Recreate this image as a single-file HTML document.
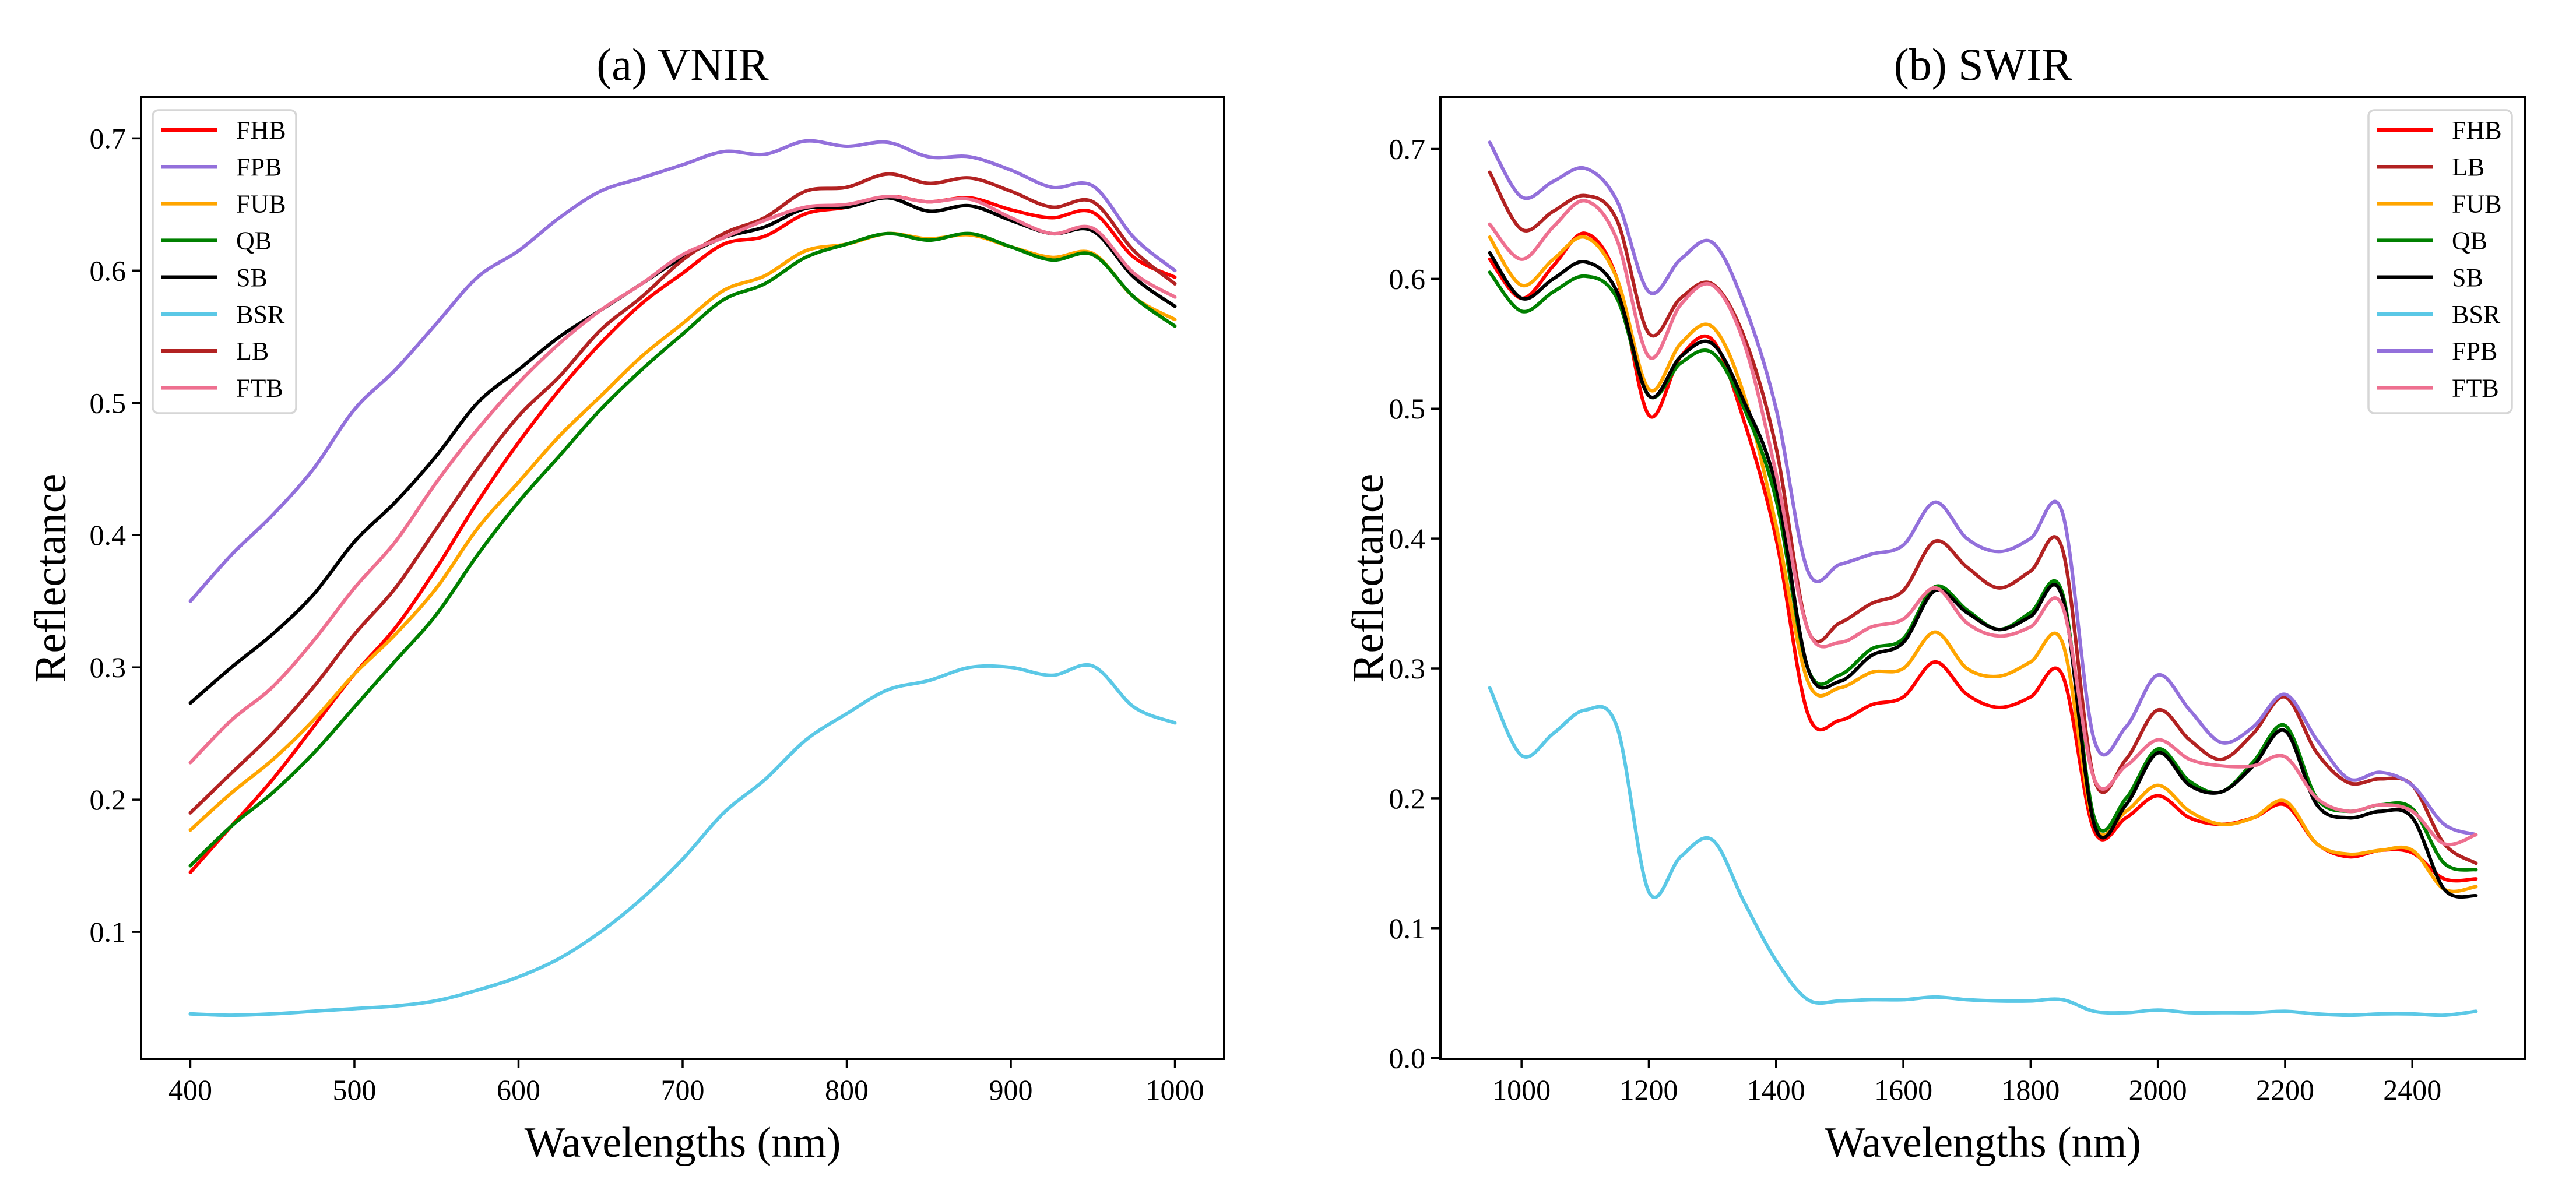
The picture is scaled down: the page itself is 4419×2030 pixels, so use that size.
<!DOCTYPE html>
<html><head><meta charset="utf-8"><style>
html,body{margin:0;padding:0;background:#fff}
svg{display:block}
text{font-family:"Liberation Serif","DejaVu Serif",serif;fill:#000}
</style></head><body>
<svg id="chart" width="4419" height="2030" viewBox="0 0 4419 2030" xmlns="http://www.w3.org/2000/svg"></svg>
<script>
// ---- VNIR data ----
const vnirWavelengths = [400,425,450,475,500,525,550,575,600,625,650,675,700,725,750,775,800,825,850,875,900,925,950,975,1000];
const vnirFHB = [.145,.18,.215,.255,.295,.33,.375,.425,.47,.51,.545,.575,.598,.62,.626,.643,.648,.656,.652,.655,.646,.64,.644,.61,.595];
const vnirFPB = [.35,.385,.415,.45,.495,.525,.56,.595,.615,.64,.66,.67,.68,.69,.688,.698,.694,.697,.686,.686,.676,.663,.664,.625,.60];
const vnirFUB = [.177,.205,.23,.26,.295,.325,.36,.405,.44,.475,.505,.535,.56,.585,.596,.615,.62,.628,.624,.627,.618,.61,.613,.58,.563];
const vnirQB  = [.15,.18,.205,.235,.27,.305,.34,.385,.425,.46,.495,.525,.552,.578,.59,.61,.62,.628,.623,.628,.618,.608,.612,.58,.558];
const vnirSB  = [.273,.30,.325,.355,.395,.425,.46,.50,.525,.55,.57,.59,.61,.625,.633,.647,.648,.655,.645,.649,.638,.628,.63,.595,.573];
const vnirBSR = [.038,.037,.038,.04,.042,.044,.048,.056,.066,.08,.1,.125,.155,.19,.215,.245,.265,.283,.29,.3,.3,.294,.301,.27,.258];
const vnirLB  = [.19,.22,.25,.285,.325,.36,.405,.45,.49,.52,.555,.58,.608,.628,.64,.66,.663,.673,.666,.67,.66,.648,.652,.615,.59];
const vnirFTB = [.228,.26,.285,.32,.36,.395,.44,.48,.515,.545,.57,.59,.612,.625,.638,.648,.65,.656,.652,.654,.64,.628,.632,.598,.58];
const vnirXTicks = [400,500,600,700,800,900,1000];
const vnirYTicks = [0.1,0.2,0.3,0.4,0.5,0.6,0.7];
// ---- SWIR data ----
const swirWavelengths = [950,1000,1050,1100,1150,1200,1250,1300,1350,1400,1450,1500,1550,1600,1650,1700,1750,1800,1850,1900,1950,2000,2050,2100,2150,2200,2250,2300,2350,2400,2450,2500];
const swirFHB = [.615,.585,.61,.635,.6,.495,.54,.553,.49,.4,.265,.26,.272,.278,.305,.28,.27,.278,.295,.175,.185,.202,.185,.18,.185,.195,.165,.155,.16,.158,.138,.138];
const swirLB  = [.682,.638,.652,.664,.645,.558,.585,.596,.555,.47,.33,.335,.35,.36,.398,.378,.362,.375,.392,.215,.23,.268,.245,.23,.25,.278,.235,.212,.215,.21,.165,.15];
const swirFUB = [.632,.595,.615,.632,.6,.515,.55,.563,.51,.41,.29,.285,.297,.3,.328,.3,.294,.305,.32,.18,.19,.21,.19,.18,.185,.198,.165,.157,.16,.16,.13,.132];
const swirQB  = [.605,.575,.59,.602,.585,.51,.535,.543,.5,.43,.3,.295,.315,.323,.363,.345,.33,.343,.358,.185,.2,.238,.213,.205,.228,.256,.2,.19,.195,.192,.15,.145];
const swirSB  = [.62,.585,.6,.613,.59,.51,.54,.55,.505,.44,.3,.29,.31,.32,.36,.343,.33,.34,.355,.18,.195,.235,.21,.205,.225,.252,.195,.185,.19,.185,.13,.125];
const swirBSR = [.285,.233,.25,.268,.255,.128,.155,.168,.12,.075,.045,.044,.045,.045,.047,.045,.044,.044,.045,.036,.035,.037,.035,.035,.035,.036,.034,.033,.034,.034,.033,.036];
const swirFPB = [.705,.663,.675,.685,.66,.59,.615,.628,.58,.5,.375,.38,.388,.395,.428,.4,.39,.4,.42,.245,.255,.295,.268,.243,.255,.28,.245,.215,.22,.21,.18,.172];
const swirFTB = [.642,.615,.64,.66,.63,.54,.58,.595,.55,.45,.33,.32,.332,.338,.362,.335,.325,.332,.348,.215,.225,.245,.23,.225,.225,.232,.2,.19,.195,.19,.165,.172];
const swirXTicks = [1000,1200,1400,1600,1800,2000,2200,2400];
const swirYTicks = [0.0,0.1,0.2,0.3,0.4,0.5,0.6,0.7];

const COLORS = {FHB:'#ff0000',FPB:'#9370db',FUB:'#ffa500',QB:'#008000',SB:'#000000',BSR:'#5bc8e6',LB:'#b22222',FTB:'#ee7090'};
const NS='http://www.w3.org/2000/svg';
const svg=document.getElementById('chart');
function mk(tag,attrs,parent){const e=document.createElementNS(NS,tag);for(const k in attrs)e.setAttribute(k,attrs[k]);(parent||svg).appendChild(e);return e;}
function smooth(pts){let d='M'+pts[0][0].toFixed(1)+','+pts[0][1].toFixed(1);
  for(let i=0;i<pts.length-1;i++){const p0=pts[i-1]||pts[i],p1=pts[i],p2=pts[i+1],p3=pts[i+2]||p2;
    const c1=[p1[0]+(p2[0]-p0[0])/6,p1[1]+(p2[1]-p0[1])/6],c2=[p2[0]-(p3[0]-p1[0])/6,p2[1]-(p3[1]-p1[1])/6];
    d+='C'+c1[0].toFixed(1)+','+c1[1].toFixed(1)+' '+c2[0].toFixed(1)+','+c2[1].toFixed(1)+' '+p2[0].toFixed(1)+','+p2[1].toFixed(1);}
  return d;}

function panel(cfg){
  const {L,R,T,B,x0,x1,y0,y1}=cfg;
  const xs=v=>L+(v-x0)/(x1-x0)*(R-L);
  const ys=v=>B-(v-y0)/(y1-y0)*(B-T);
  const g=mk('g',{});
  
  
  cfg.series.forEach(s=>{
    const p=mk('path',{d:smooth(cfg.xv.map((w,i)=>[xs(w),ys(s.v[i])])),fill:'none',stroke:COLORS[s.k],'stroke-width':6,'stroke-linejoin':'round','stroke-linecap':'round'},g);
    
    
  });
  const fr=mk('rect',{x:L,y:T,width:R-L,height:B-T,fill:'none',stroke:'#000','stroke-width':4},g);
  
  
  cfg.xt.forEach(t=>{
    mk('line',{x1:xs(t),x2:xs(t),y1:B,y2:B+16,stroke:'#000','stroke-width':3.5},g);
    const tx=mk('text',{x:xs(t),y:B+70,'font-size':50,'text-anchor':'middle'},g);tx.textContent=t;
    
    
  });
  cfg.yt.forEach(t=>{
    mk('line',{x1:L-16,x2:L,y1:ys(t),y2:ys(t),stroke:'#000','stroke-width':3.5},g);
    const tx=mk('text',{x:L-26,y:ys(t)+17,'font-size':50,'text-anchor':'end'},g);tx.textContent=t.toFixed(1);
    
    
  });
  const ti=mk('text',{x:(L+R)/2,y:T-30,'font-size':78,'text-anchor':'middle'},g);ti.textContent=cfg.title;
  
  
  const xl=mk('text',{x:(L+R)/2,y:1985,'font-size':74,'text-anchor':'middle'},g);xl.textContent='Wavelengths (nm)';
  
  
  const yl=mk('text',{x:0,y:0,'font-size':76,'text-anchor':'middle',transform:'translate('+(cfg.ylx)+','+((T+B)/2)+') rotate(-90)'},g);yl.textContent='Reflectance';
  
  
  const lg=mk('g',{},g);
  
  
  const lx=cfg.legX;
  mk('rect',{x:lx,y:189,width:246,height:520,rx:10,fill:'#fff','fill-opacity':0.8,stroke:'#d6d6d6','stroke-width':3.5},lg);
  cfg.legend.forEach((k,i)=>{
    const y=223+i*63.2;
    const ln=mk('line',{x1:lx+15,x2:lx+110,y1:y,y2:y,stroke:COLORS[k],'stroke-width':6.5},lg);
    
    
    const t=mk('text',{x:lx+143,y:y+15,'font-size':44},lg);t.textContent=k;
    
    
  });
}

panel({name:'vnir-panel',L:242,R:2100,T:167,B:1817,x0:370,x1:1030,y0:0.004,y1:0.731,
  xv:vnirWavelengths,xt:vnirXTicks,yt:vnirYTicks,title:'(a) VNIR',ylx:112,legX:262,
  series:[{k:'FHB',v:vnirFHB},{k:'FPB',v:vnirFPB},{k:'FUB',v:vnirFUB},{k:'QB',v:vnirQB},{k:'SB',v:vnirSB},{k:'BSR',v:vnirBSR},{k:'LB',v:vnirLB},{k:'FTB',v:vnirFTB}],
  legend:['FHB','FPB','FUB','QB','SB','BSR','LB','FTB']});
panel({name:'swir-panel',L:2471,R:4332,T:167,B:1817,x0:872.5,x1:2577.5,y0:-0.0006,y1:0.7397,
  xv:swirWavelengths,xt:swirXTicks,yt:swirYTicks,title:'(b) SWIR',ylx:2372,legX:4063,
  series:[{k:'FHB',v:swirFHB},{k:'LB',v:swirLB},{k:'FUB',v:swirFUB},{k:'QB',v:swirQB},{k:'SB',v:swirSB},{k:'BSR',v:swirBSR},{k:'FPB',v:swirFPB},{k:'FTB',v:swirFTB}],
  legend:['FHB','LB','FUB','QB','SB','BSR','FPB','FTB']});
</script>
</body></html>
